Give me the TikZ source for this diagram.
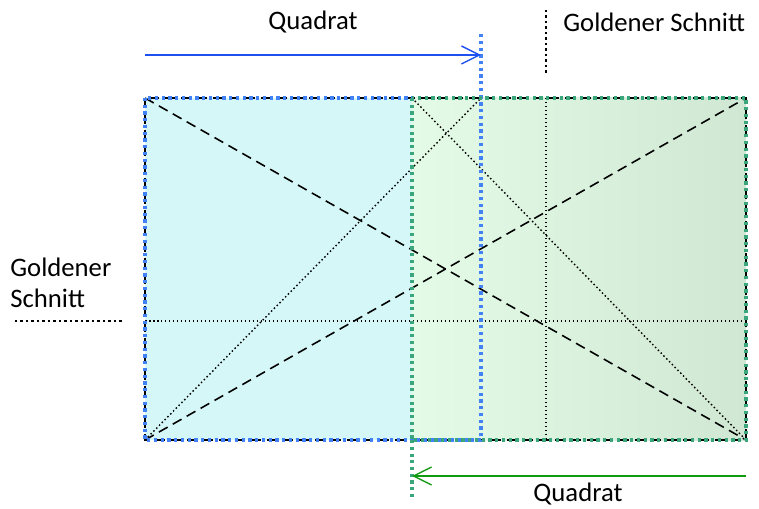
\documentclass[tikz,border=0pt]{standalone}
\usepackage{fontspec}
\setmainfont{Carlito}
\usetikzlibrary{arrows.meta,positioning,calc}
\definecolor{sqblue}{HTML}{4282F5}
\definecolor{sqgreen}{HTML}{3BA67B}
\definecolor{arrblue}{HTML}{1E50F0}
\definecolor{arrgreen}{HTML}{129A12}
\definecolor{fillcyan}{HTML}{D5F7F7}
\definecolor{fillgreenA}{HTML}{E4FBE7}
\definecolor{fillgreenB}{HTML}{CFE7D3}

\begin{document}
\begin{tikzpicture}[
    x=0.02cm, y=-0.02cm,
    font=\fontsize{15.2}{17.5}\selectfont,
    >={Straight Barb[length=3.6mm,width=3.6mm]},
    diag/.style={black, line width=0.9pt, dash pattern=on 2mm off 1.2mm},
    thin dot/.style={black, line width=0.8pt, dash pattern=on 0.3mm off 0.5mm},
    gold mark/.style={black, line width=1.5pt, dash pattern=on 0.5mm off 0.6mm},
    blue sq/.style={sqblue, line width=2.1pt, dash pattern=on 0.65mm off 0.7mm},
    green sq/.style={sqgreen, line width=2.1pt, dash pattern=on 0.65mm off 0.7mm},
    measure/.style={->, line width=0.8pt},
    lab/.style={inner sep=0pt}
  ]
  \useasboundingbox (0,0) rectangle (759,509);
  % corners of the rectangle and the two squares
  \coordinate (tl) at (145,98);  \coordinate (tr) at (746,98);
  \coordinate (bl) at (145,440); \coordinate (br) at (746,440);
  \coordinate (bq) at (481,98);  \coordinate (bqb) at (481,440);
  \coordinate (gq) at (412,98);  \coordinate (gqb) at (412,440);
  \coordinate (gv) at (546,98);  \coordinate (gvb) at (546,440);
  \coordinate (gh) at (145,321); \coordinate (ghr) at (746,321);

  \fill[fillcyan] (tl) rectangle (gqb);
  \shade[left color=fillgreenA, right color=fillgreenB] (gq) rectangle (br);

  % diagonals
  \draw[diag] (tl) -- (br);
  \draw[diag] (bl) -- (tr);
  \draw[thin dot] (bl) -- (bq);
  \draw[thin dot] (gq) -- (br);
  \draw[thin dot] (gv) -- (gvb);
  \draw[thin dot] (gh) -- (ghr);

  \draw[diag] (tl) rectangle (br);

  % squares
  \coordinate (bqtop) at (481,32);
  \coordinate (gqbot) at (412,497);
  \draw[blue sq] (tl) rectangle (bqb);
  \draw[blue sq] (bq) -- (bqtop);
  \draw[green sq] (gq) rectangle (br);
  \draw[green sq] (gqb) -- (gqbot);

  % measure arrows
  \coordinate (ba) at (145,55);  \coordinate (bb) at (481,55);
  \coordinate (ga) at (746,476); \coordinate (gb) at (412,476);
  \draw[measure, arrblue] (ba) -- (bb);
  \draw[measure, arrgreen] (ga) -- (gb);
  \node[lab] (qtop) at (313,22) {Quadrat};
  \node[lab] (qbot) at (578,494) {Quadrat};

  % golden section marks
  \coordinate (mv1) at (546,10); \coordinate (mv2) at (546,75);
  \coordinate (mh1) at (15,321); \coordinate (mh2) at (123,321);
  \draw[gold mark] (mv1) -- (mv2);
  \draw[gold mark] (mh1) -- (mh2);
  \node[lab, anchor=west] (gtop) at (563,22) {Goldener Schnitt};
  \node[lab, anchor=west, align=left] (gleft) at (10,283) {Goldener\\Schnitt};
\end{tikzpicture}
\end{document}
